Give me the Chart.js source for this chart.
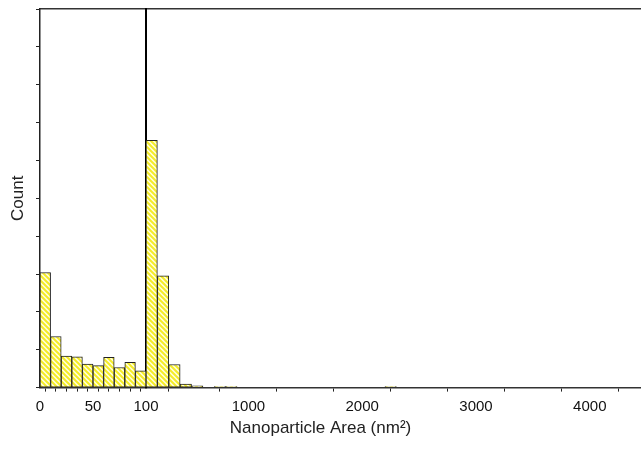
<!DOCTYPE html>
<html>
<head>
<meta charset="utf-8">
<script src="https://cdn.jsdelivr.net/npm/chart.js@4/dist/chart.umd.min.js"></script>
<style>
html, body { margin: 0; padding: 0; background: #fff; }
</style>
</head>
<body>
<canvas id="myChart" width="641" height="449"></canvas>
<script>
// bins 0-100 nm^2 (width 10)
var lowBins = [5, 15, 25, 35, 45, 55, 65, 75, 85, 95];
var lowCounts = [30.4, 13.5, 8.3, 8.1, 6.2, 5.8, 8.0, 5.3, 6.7, 4.4];
// bins above 100 nm^2 (width 100)
var highBins = [150, 250, 350, 450, 550, 750, 850, 2250];
var highCounts = [65.3, 29.5, 6.1, 0.9, 0.45, 0.3, 0.3, 0.3];

var lowTicks = [0, 10, 20, 30, 40, 50, 60, 70, 80, 90, 100];
var lowLabels = [0, 50, 100];
var highTicks = [100, 500, 1000, 1500, 2000, 2500, 3000, 3500, 4000];
var highLabels = [1000, 2000, 3000, 4000];
var countTicks = [0, 10, 20, 30, 40, 50, 60, 70, 80, 90, 100];
var breakAt = 100;

var fontFam = "'Liberation Sans', Arial, sans-serif";

function makeHatch() {
    var c = document.createElement('canvas');
    c.width = 5;
    c.height = 5;
    var g = c.getContext('2d');
    g.fillStyle = '#ffffe0';
    g.fillRect(0, 0, 5, 5);
    g.strokeStyle = '#f5ec28';
    g.lineWidth = 2;
    g.beginPath();
    g.moveTo(-1, -1); g.lineTo(6, 6);
    g.moveTo(-1, 4); g.lineTo(1, 6);
    g.moveTo(4, -1); g.lineTo(6, 1);
    g.stroke();
    return g.createPattern(c, 'repeat');
}

var hatch = makeHatch();

function toPoints(xs, ys) {
    return xs.map(function (x, i) { return {x: x, y: ys[i]}; });
}

function noEdgePad(s) {
    s.height = 26;
    s.paddingLeft = 0;
    s.paddingRight = 0;
}

var ctx = document.getElementById('myChart');

window.myHist = new Chart(ctx, {
    type: 'bar',
    data: {
        datasets: [{
            label: 'low',
            data: toPoints(lowBins, lowCounts),
            xAxisID: 'xLow',
            yAxisID: 'y',
            backgroundColor: hatch,
            borderColor: '#222',
            borderWidth: 1,
            borderSkipped: false,
            grouped: false,
            barPercentage: 1,
            categoryPercentage: 1
        }, {
            label: 'high',
            data: toPoints(highBins, highCounts),
            xAxisID: 'xHigh',
            yAxisID: 'y',
            backgroundColor: hatch,
            borderColor: '#222',
            borderWidth: 1,
            borderSkipped: false,
            grouped: false,
            barPercentage: 1,
            categoryPercentage: 1
        }]
    },
    options: {
        responsive: false,
        animation: false,
        layout: { padding: { top: 9, left: 0, right: 0, bottom: 0 } },
        plugins: {
            legend: { display: false },
            tooltip: { enabled: false },
            title: {
                display: true,
                position: 'bottom',
                text: 'Nanoparticle Area (nm²)',
                color: '#222',
                font: { family: fontFam, size: 17, weight: 'normal' },
                padding: { top: 5, bottom: 10 }
            }
        },
        scales: {
            xLow: {
                type: 'linear',
                axis: 'x',
                position: 'bottom',
                stack: 'xs',
                stackWeight: 106,
                min: 0,
                max: 100,
                offset: false,
                afterBuildTicks: function (s) { s.ticks = lowTicks.map(function (v) { return {value: v}; }); },
                afterFit: noEdgePad,
                ticks: {
                    autoSkip: false,
                    maxRotation: 0,
                    padding: 6,
                    color: '#111',
                    font: { family: fontFam, size: 15 },
                    callback: function (v) { return lowLabels.indexOf(v) >= 0 ? String(v) : ''; }
                },
                grid: { drawOnChartArea: false, tickLength: 4, tickColor: '#222', tickWidth: 1 },
                border: { color: '#333', width: 1.5 }
            },
            xHigh: {
                type: 'linear',
                axis: 'x',
                position: 'bottom',
                stack: 'xs',
                stackWeight: 495,
                min: 100,
                max: 4450,
                offset: false,
                afterBuildTicks: function (s) { s.ticks = highTicks.map(function (v) { return {value: v}; }); },
                afterFit: noEdgePad,
                ticks: {
                    autoSkip: false,
                    maxRotation: 0,
                    padding: 6,
                    color: '#111',
                    font: { family: fontFam, size: 15 },
                    callback: function (v) { return highLabels.indexOf(v) >= 0 ? String(v) : ''; }
                },
                grid: { drawOnChartArea: false, tickLength: 4, tickColor: '#222', tickWidth: 1 },
                border: { color: '#333', width: 1.5 }
            },
            xTop: {
                type: 'linear',
                axis: 'x',
                position: 'top',
                ticks: { display: false },
                grid: { drawOnChartArea: false, drawTicks: false },
                border: { color: '#333', width: 1.5 },
                afterFit: function (s) { s.height = 0; s.paddingLeft = 0; s.paddingRight = 0; }
            },
            y: {
                type: 'linear',
                position: 'left',
                min: 0,
                max: 100,
                afterBuildTicks: function (s) { s.ticks = countTicks.map(function (v) { return {value: v}; }); },
                afterFit: function (s) { s.width = 40; s.paddingTop = 0; s.paddingBottom = 0; },
                ticks: { display: false },
                title: {
                    display: true,
                    text: 'Count',
                    color: '#222',
                    font: { family: fontFam, size: 17, weight: 'normal' },
                    padding: { top: 8, bottom: 0 }
                },
                grid: { drawOnChartArea: false, tickLength: 4, tickColor: '#222', tickWidth: 1 },
                border: { color: '#222', width: 1.5 }
            },
            // axis break line, drawn as a y axis sitting at x = 100 on the upper scale
            yBreak: {
                type: 'linear',
                axis: 'y',
                position: { xHigh: breakAt },
                min: 0,
                max: 100,
                ticks: { display: false },
                grid: { drawOnChartArea: false, drawTicks: false },
                border: { color: '#000', width: 2 }
            }
        }
    }
});
</script>
</body>
</html>
